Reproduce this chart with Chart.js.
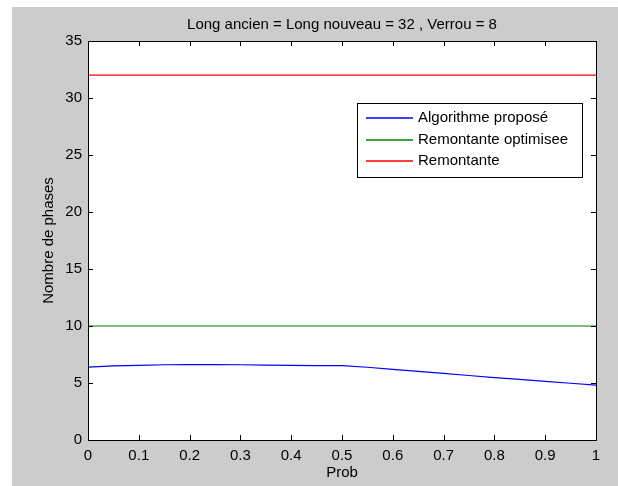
<!DOCTYPE html>
<html>
<head>
<meta charset="utf-8">
<script src="https://cdn.jsdelivr.net/npm/chart.js@4.4.0/dist/chart.umd.min.js"></script>
<style>
  html, body { margin: 0; padding: 0; background: #fff; }
  canvas { display: block; }
</style>
</head>
<body>
<canvas id="canvas" width="618" height="486"></canvas>
<script>
  // valeurs
  const probs = [0, 0.05, 0.1, 0.15, 0.2, 0.25, 0.3, 0.35, 0.4, 0.45, 0.5,
                 0.55, 0.6, 0.65, 0.7, 0.75, 0.8, 0.85, 0.9, 0.95, 1];
  const algoValues = [6.40, 6.50, 6.55, 6.60, 6.62, 6.62, 6.60, 6.56, 6.54, 6.53, 6.52,
                      6.38, 6.20, 6.02, 5.84, 5.66, 5.48, 5.31, 5.14, 4.98, 4.82];
  const flatX = [0, 1];
  const remOptValues = [10, 10];
  const remValues = [32, 32];

  const seriesLabels = ['Algorithme proposé', 'Remontante optimisee', 'Remontante'];
  const seriesColors = ['#0000ff', '#008000', '#ff0000'];

  const titleText = 'Long ancien = Long nouveau = 32 , Verrou = 8';
  const xTitle = 'Prob';
  const yTitle = 'Nombre de phases';

  const FONT = '"Liberation Sans", Arial, sans-serif';

  function toPoints(xs, ys) {
    return xs.map(function(x, i) { return {x: x, y: ys[i]}; });
  }

  const ctx = document.getElementById('canvas').getContext('2d');

  // fond gris, cadre, ticks vers l'intérieur, légende et titres façon MATLAB
  const matlabFrame = {
    id: 'matlabFrame',
    beforeDraw(chart) {
      const c = chart.ctx, a = chart.chartArea;
      c.save();
      c.fillStyle = '#ffffff';
      c.fillRect(0, 0, chart.width, chart.height);
      c.fillStyle = '#cccccc';
      c.fillRect(12, 7, chart.width - 12, chart.height - 7);
      c.fillStyle = '#ffffff';
      c.fillRect(a.left, a.top, a.right - a.left, a.bottom - a.top);
      c.restore();
    },
    afterDatasetsDraw(chart) {
      const c = chart.ctx, a = chart.chartArea;
      const xs = chart.scales.x, ys = chart.scales.y;
      c.save();
      c.strokeStyle = '#000';
      c.lineWidth = 1;
      c.strokeRect(a.left + 0.5, a.top + 0.5, a.right - a.left, a.bottom - a.top);

      c.beginPath();
      xs.ticks.forEach(function(t) {
        const px = Math.round(xs.getPixelForValue(t.value)) + 0.5;
        c.moveTo(px, a.bottom); c.lineTo(px, a.bottom - 5);
        c.moveTo(px, a.top); c.lineTo(px, a.top + 5);
      });
      ys.ticks.forEach(function(t) {
        const py = Math.round(ys.getPixelForValue(t.value)) + 0.5;
        c.moveTo(a.left, py); c.lineTo(a.left + 5, py);
        c.moveTo(a.right, py); c.lineTo(a.right - 5, py);
      });
      c.stroke();

      // légende
      const lx = 357, ly = 103, lw = 225, lh = 74;
      c.fillStyle = '#fff';
      c.fillRect(lx, ly, lw, lh);
      c.strokeStyle = '#000';
      c.lineWidth = 1;
      c.strokeRect(lx + 0.5, ly + 0.5, lw, lh);
      c.font = '15px ' + FONT;
      c.textBaseline = 'middle';
      c.textAlign = 'left';
      seriesLabels.forEach(function(lab, i) {
        const rowY = Math.round(118 + i * 21.5);
        c.strokeStyle = seriesColors[i];
        c.lineWidth = 1.5;
        c.beginPath();
        c.moveTo(366, rowY);
        c.lineTo(413, rowY);
        c.stroke();
        c.fillStyle = '#000';
        c.fillText(lab, 418, rowY);
      });

      // titres
      const cx = (a.left + a.right) / 2;
      c.fillStyle = '#000';
      c.textAlign = 'center';
      c.textBaseline = 'alphabetic';
      c.fillText(titleText, cx, 29);
      c.textBaseline = 'middle';
      c.fillText(xTitle, cx, 473);
      c.translate(49, (a.top + a.bottom) / 2);
      c.rotate(-Math.PI / 2);
      c.fillText(yTitle, 0, 0);
      c.restore();
    }
  };

  const config = {
    type: 'line',
    data: {
      datasets: [
        {label: seriesLabels[0], data: toPoints(probs, algoValues), borderColor: seriesColors[0]},
        {label: seriesLabels[1], data: toPoints(flatX, remOptValues), borderColor: seriesColors[1]},
        {label: seriesLabels[2], data: toPoints(flatX, remValues), borderColor: seriesColors[2]}
      ]
    },
    options: {
      responsive: false,
      animation: false,
      events: [],
      layout: {padding: {top: 41, right: 22, left: 0, bottom: 0}},
      elements: {
        point: {radius: 0},
        line: {borderWidth: 1.2, tension: 0}
      },
      plugins: {
        legend: {display: false},
        title: {display: false},
        tooltip: {enabled: false}
      },
      scales: {
        x: {
          type: 'linear',
          min: 0, max: 1,
          afterFit(s) { s.height = 46; },
          grid: {display: false, drawTicks: false},
          border: {display: false},
          ticks: {
            stepSize: 0.1,
            padding: 7,
            color: '#000',
            font: {family: FONT, size: 15},
            callback: function(v) { return String(+v.toFixed(1)); }
          }
        },
        y: {
          min: 0, max: 35,
          afterFit(s) { s.width = 88; },
          grid: {display: false, drawTicks: false},
          border: {display: false},
          ticks: {
            stepSize: 5,
            padding: 6,
            color: '#000',
            font: {family: FONT, size: 15}
          }
        }
      }
    },
    plugins: [matlabFrame]
  };

  const chart = new Chart(ctx, config);
</script>
</body>
</html>
